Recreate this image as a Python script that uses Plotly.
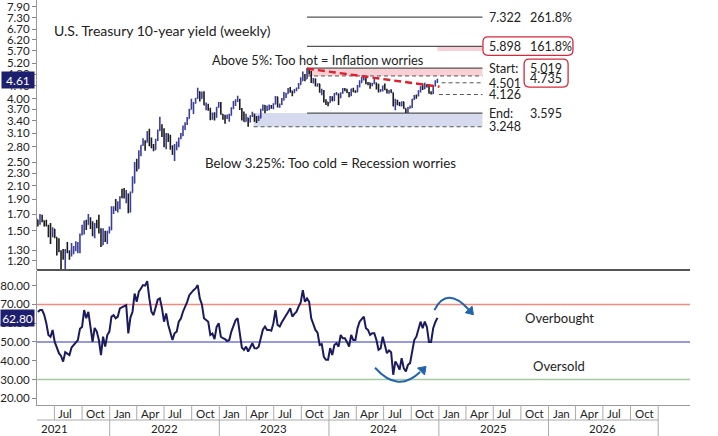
import numpy as np
import pandas as pd
import plotly.graph_objects as go

# ---------------- data ----------------
weeks = pd.date_range("2021-05-07", periods=191, freq="W-FRI")

close_2021 = [1.58, 1.63, 1.62, 1.58, 1.56, 1.45, 1.44, 1.52, 1.43, 1.36,
              1.29, 1.28, 1.22, 1.30, 1.28, 1.26, 1.31, 1.33, 1.34, 1.37,
              1.46, 1.47, 1.61, 1.57, 1.64, 1.56, 1.45, 1.58, 1.54, 1.48,
              1.35, 1.48, 1.40, 1.49, 1.51]
high_2021 = [1.63, 1.70, 1.69, 1.62, 1.63, 1.57, 1.59, 1.54, 1.52, 1.43,
             1.42, 1.30, 1.31, 1.31, 1.38, 1.30, 1.37, 1.34, 1.39, 1.38,
             1.47, 1.57, 1.62, 1.63, 1.70, 1.66, 1.61, 1.59, 1.63, 1.69,
             1.53, 1.53, 1.50, 1.50, 1.55]
low_2021 = [1.55, 1.57, 1.60, 1.55, 1.55, 1.43, 1.36, 1.43, 1.42, 1.25,
            1.28, 1.13, 1.21, 1.13, 1.27, 1.21, 1.24, 1.26, 1.29, 1.27,
            1.27, 1.45, 1.46, 1.51, 1.57, 1.52, 1.44, 1.42, 1.53, 1.47,
            1.33, 1.35, 1.38, 1.36, 1.47]

close_2022 = [1.77, 1.78, 1.75, 1.78, 1.93, 1.92, 1.92, 1.97, 1.73, 1.99,
              2.14, 2.48, 2.38, 2.71, 2.83, 2.90, 2.89, 3.13, 2.93, 2.78,
              2.74, 2.94, 3.16, 3.23, 3.13, 2.89, 3.08, 2.92, 2.76, 2.65,
              2.83, 2.84, 2.98, 3.04, 3.19, 3.31, 3.45, 3.69, 3.80, 3.88,
              4.01, 4.21, 4.01, 4.16, 3.82, 3.83, 3.68, 3.51, 3.58, 3.48,
              3.75, 3.87]
high_2022 = [1.80, 1.80, 1.90, 1.87, 1.94, 2.05, 2.06, 2.03, 1.98, 2.01,
             2.25, 2.50, 2.56, 2.73, 2.83, 2.98, 2.94, 3.14, 3.20, 3.00,
             2.86, 2.97, 3.18, 3.50, 3.31, 3.21, 3.10, 3.09, 3.06, 2.83,
             2.86, 2.91, 3.00, 3.10, 3.28, 3.36, 3.49, 3.71, 4.00, 3.90,
             4.02, 4.34, 4.22, 4.22, 4.23, 3.89, 3.85, 3.74, 3.61, 3.62,
             3.76, 3.90]
low_2022 = [1.51, 1.70, 1.74, 1.72, 1.76, 1.91, 1.91, 1.84, 1.71, 1.72,
            1.99, 2.13, 2.33, 2.38, 2.61, 2.82, 2.72, 2.89, 2.81, 2.77,
            2.71, 2.74, 2.92, 3.15, 3.01, 2.79, 2.75, 2.90, 2.74, 2.64,
            2.52, 2.73, 2.79, 2.96, 3.03, 3.17, 3.29, 3.45, 3.69, 3.57,
            3.85, 4.00, 3.92, 4.00, 3.81, 3.67, 3.66, 3.41, 3.42, 3.40,
            3.48, 3.75]

close_2023 = [3.56, 3.51, 3.48, 3.52, 3.53, 3.74, 3.82, 3.95, 3.96, 3.70,
              3.43, 3.38, 3.47, 3.39, 3.52, 3.57, 3.44, 3.44, 3.46, 3.68,
              3.80, 3.69, 3.74, 3.77, 3.74, 3.84, 4.06, 3.83, 3.84, 3.96,
              4.04, 4.15, 4.25, 4.24, 4.18, 4.26, 4.33, 4.44, 4.57, 4.78,
              4.63, 4.92, 4.84, 4.57, 4.63, 4.44, 4.47, 4.20, 4.23, 3.91,
              3.90, 3.88]
high_2023 = [3.90, 3.57, 3.55, 3.56, 3.58, 3.75, 3.93, 3.98, 4.09, 4.00,
             3.73, 3.64, 3.58, 3.47, 3.53, 3.63, 3.57, 3.52, 3.53, 3.71,
             3.83, 3.82, 3.80, 3.83, 3.82, 3.87, 4.08, 4.06, 3.86, 4.02,
             4.20, 4.18, 4.33, 4.36, 4.24, 4.30, 4.34, 4.49, 4.69, 4.89,
             4.80, 5.02, 4.99, 4.92, 4.66, 4.65, 4.48, 4.47, 4.31, 4.27,
             3.98, 3.90]
low_2023 = [3.56, 3.42, 3.32, 3.44, 3.37, 3.53, 3.70, 3.79, 3.90, 3.68,
            3.40, 3.37, 3.37, 3.25, 3.35, 3.49, 3.37, 3.34, 3.39, 3.46,
            3.66, 3.59, 3.65, 3.67, 3.71, 3.70, 3.84, 3.75, 3.74, 3.82,
            3.95, 4.02, 4.15, 4.18, 4.07, 4.17, 4.23, 4.30, 4.44, 4.57,
            4.55, 4.63, 4.79, 4.49, 4.48, 4.38, 4.37, 4.19, 4.10, 3.89,
            3.82, 3.78]

close_2024 = [4.05, 3.94, 4.14, 4.14, 4.03, 4.18, 4.28, 4.25, 4.19, 4.09,
              4.30, 4.21, 4.20, 4.40, 4.50, 4.62, 4.67, 4.50, 4.50, 4.42,
              4.47, 4.50, 4.43, 4.22, 4.26, 4.40, 4.28, 4.18, 4.24, 4.19,
              3.79, 3.94, 3.89, 3.80, 3.91, 3.72, 3.65, 3.73, 3.75, 3.98,
              4.09, 4.08, 4.24, 4.37, 4.31, 4.43, 4.41, 4.17, 4.15, 4.40,
              4.52, 4.61]
high_2024 = [4.08, 4.07, 4.17, 4.20, 4.16, 4.19, 4.33, 4.33, 4.31, 4.20,
             4.31, 4.34, 4.26, 4.43, 4.59, 4.70, 4.74, 4.69, 4.51, 4.50,
             4.50, 4.63, 4.50, 4.47, 4.30, 4.40, 4.48, 4.31, 4.27, 4.29,
             4.19, 4.00, 3.97, 3.90, 3.92, 3.91, 3.72, 3.76, 3.80, 3.99,
             4.11, 4.13, 4.26, 4.39, 4.48, 4.50, 4.45, 4.42, 4.23, 4.41,
             4.59, 4.64]
low_2024 = [3.88, 3.93, 3.93, 4.10, 3.82, 4.02, 4.15, 4.23, 4.17, 4.04,
            4.08, 4.20, 4.18, 4.20, 4.35, 4.50, 4.58, 4.45, 4.42, 4.31,
            4.39, 4.45, 4.28, 4.19, 4.21, 4.22, 4.27, 4.16, 4.15, 4.18,
            3.78, 3.67, 3.81, 3.79, 3.78, 3.71, 3.60, 3.595, 3.72, 3.73,
            3.96, 4.00, 4.07, 4.19, 4.27, 4.30, 4.35, 4.16, 4.13, 4.14,
            4.38, 4.49]

close = close_2021 + close_2022 + close_2023 + close_2024
high = high_2021 + high_2022 + high_2023 + high_2024
low = low_2021 + low_2022 + low_2023 + low_2024
first_open = 1.63
open_ = [first_open] + close[:-1]   # weekly open = prior week's close

rsi = [66, 67, 67, 64.5, 60, 53.7, 52.8, 56.4, 50, 46.5,
       44, 42.5, 39.5, 44.5, 43.5, 43, 47, 48.5, 50, 51,
       57, 58, 67, 62.6, 66, 59, 50, 57.5, 55.5, 51,
       43, 52.8, 47.5, 53.7, 55.5, 63.5, 64.3, 62.6, 63.5, 67.9,
       68.5, 68.8, 69.6, 54.6, 63, 66.1, 75.8, 71.4, 76.7, 78.5,
       80.3, 80, 82.4, 73.2, 66.1, 64.3, 69, 72.5, 73.2, 68,
       60.8, 65.2, 59, 55.5, 51, 54.6, 55.5, 60.8, 62.5, 66.1,
       68.5, 71.4, 74.9, 76.5, 77.6, 78.5, 80.3, 73.2, 70, 62.6,
       61.5, 60.8, 53.7, 54.5, 51.5, 58, 60, 52.8, 52, 51.5,
       50.5, 51, 55.5, 58.2, 61.5, 62.6, 55, 47, 45.8, 47.5,
       44.9, 47.5, 49.3, 46.7, 46.5, 47.5, 52.8, 56.5, 58.2, 56.4,
       56.4, 56, 60, 67, 59, 58.2, 60.5, 62.6, 64.5, 66,
       67.9, 63.5, 65, 66.1, 68.8, 71, 77.6, 71.4, 73.2, 71.4,
       62.6, 60, 56.4, 55, 48.4, 48.8, 42, 40.5, 40.5, 46.7,
       43, 48.4, 49.3, 47.5, 53.7, 52, 52, 50, 47.5, 53.7,
       51, 51, 57.3, 60.8, 62.5, 63.5, 57.3, 56.4, 53.7, 54.6,
       54.6, 51, 45.8, 46.5, 52.8, 49, 44, 45.5, 44.5, 32.5,
       39.6, 37.8, 35.2, 41.4, 36, 34.3, 37.8, 38.7, 45, 51,
       52.8, 57.3, 60.8, 57.3, 60.8, 58, 50, 50, 57.3, 60.5, 62.8]

yield_ticks = [7.90, 7.30, 6.70, 6.20, 5.70, 5.20, 4.80, 4.40, 4.00, 3.70, 3.40,
               3.10, 2.80, 2.50, 2.30, 2.10, 1.90, 1.70, 1.50, 1.30, 1.20]
rsi_ticks = [80, 70, 60, 50, 40, 30, 20]
rsi_levels = [70, 50, 30]
rsi_level_colors = ["#f28b7d", "#7279c9", "#a5c9a1"]

fib_solid = [7.322, 5.898, 5.019, 3.595]
fib_label_left = ["7.322", "5.898", "Start:", "End:"]
fib_label_right = ["261.8%", "161.8%", "5.019", "3.595"]
dashed_levels = [4.735, 4.501, 4.126, 3.248]
dashed_starts = ["2023-10-20", "2025-01-10", "2025-01-01", "2023-04-25"]
dashed_label = ["4.735", "4.501", "4.126", "3.248"]

last_yield = 4.61
last_rsi = 62.80
trend_pts = [("2023-10-20", 5.00), ("2025-01-03", 4.37)]

x_range = ["2021-05-04", "2027-04-17"]
fib_x0, fib_x1 = "2023-10-20", "2025-05-26"
lab_x1, lab_x2 = "2025-06-10", "2025-10-25"

quarters = pd.date_range("2021-07-01", "2027-01-01", freq="QS")
years = [2021, 2022, 2023, 2024, 2025, 2026]

# ---------------- figure ----------------
TXT = "#222222"
FONT = "Lato"
H = 405.0  # plot-area height in px (for paper fractions of the date table)

fig = go.Figure()

fig.add_trace(go.Ohlc(
    x=weeks, open=open_, high=high, low=low, close=close,
    increasing=dict(line=dict(color="#3b3f9c", width=1.6)),
    decreasing=dict(line=dict(color="#1c1c1c", width=1.6)),
    tickwidth=0.35, xaxis="x", yaxis="y", hoverinfo="skip"))

fig.add_trace(go.Scatter(
    x=weeks, y=rsi, mode="lines", line=dict(color="#1a1a5e", width=2),
    xaxis="x", yaxis="y2", hoverinfo="skip"))

shapes = []
# bands
shapes.append(dict(type="rect", xref="x", yref="y", x0=fib_x0, x1=fib_x1,
                   y0=4.735, y1=5.019, fillcolor="#f9d0d6", line=dict(width=0), layer="below"))
shapes.append(dict(type="rect", xref="x", yref="y", x0="2024-12-27", x1=fib_x1,
                   y0=5.70, y1=5.898, fillcolor="#f9d0d6", line=dict(width=0), layer="below"))
shapes.append(dict(type="rect", xref="x", yref="y", x0="2023-04-25", x1=fib_x1,
                   y0=3.248, y1=3.595, fillcolor="#d5daee", line=dict(width=0), layer="below"))
# fib solid lines
for v in fib_solid:
    shapes.append(dict(type="line", xref="x", yref="y", x0=fib_x0, x1=fib_x1,
                       y0=v, y1=v, line=dict(color="#555555", width=1.3), layer="below"))
for v, s in zip(dashed_levels, dashed_starts):
    shapes.append(dict(type="line", xref="x", yref="y", x0=s, x1=fib_x1,
                       y0=v, y1=v, line=dict(color="#555555", width=1, dash="4px,3px"), layer="below"))
# red trend line
shapes.append(dict(type="line", xref="x", yref="y", x0=trend_pts[0][0], y0=trend_pts[0][1],
                   x1=trend_pts[1][0], y1=trend_pts[1][1],
                   line=dict(color="#e0202a", width=2.4, dash="7px,4px"), layer="above"))
# rounded red boxes (pixel sized, anchored on data)
def rounded(x0, y0, x1, y1, r=5):
    return (f"M {x0+r} {y1} L {x1-r} {y1} Q {x1} {y1} {x1} {y1-r} "
            f"L {x1} {y0+r} Q {x1} {y0} {x1-r} {y0} L {x0+r} {y0} "
            f"Q {x0} {y0} {x0} {y0+r} L {x0} {y1-r} Q {x0} {y1} {x0+r} {y1} Z")
shapes.append(dict(type="path", xref="x", yref="y", xsizemode="pixel", ysizemode="pixel",
                   xanchor=lab_x1, yanchor=5.898, path=rounded(-4, -9, 86, 9.5),
                   line=dict(color="#d42a3c", width=1.3)))
shapes.append(dict(type="path", xref="x", yref="y", xsizemode="pixel", ysizemode="pixel",
                   xanchor=lab_x2, yanchor=5.019, path=rounded(-4, -19, 40, 9),
                   line=dict(color="#d42a3c", width=1.3)))
# RSI reference lines
for v, c in zip(rsi_levels, rsi_level_colors):
    shapes.append(dict(type="line", xref="paper", yref="y2", x0=0, x1=1, y0=v, y1=v,
                       line=dict(color=c, width=1.5), layer="below"))
# panel separator
shapes.append(dict(type="line", xref="paper", yref="paper", x0=0, x1=1,
                   y0=135 / H, y1=135 / H, line=dict(color="#555555", width=2)))
# curved arrows in RSI panel
ARROW = "#2263ab"
shapes.append(dict(type="path", xref="x", yref="y2", xsizemode="pixel", ysizemode="pixel",
                   xanchor="2024-08-18", yanchor=30, path="M -23 11.7 Q 0 -14 22 7.5",
                   line=dict(color=ARROW, width=2)))
shapes.append(dict(type="path", xref="x", yref="y2", xsizemode="pixel", ysizemode="pixel",
                   xanchor="2024-08-18", yanchor=30, path="M 28 13 L 19.5 11.5 L 26.5 4.5 Z",
                   fillcolor=ARROW, line=dict(color=ARROW, width=1)))
shapes.append(dict(type="path", xref="x", yref="y2", xsizemode="pixel", ysizemode="pixel",
                   xanchor="2025-02-06", yanchor=70, path="M -15.3 -5.7 Q -2.85 18.55 19 -5.2",
                   line=dict(color=ARROW, width=2)))
shapes.append(dict(type="path", xref="x", yref="y2", xsizemode="pixel", ysizemode="pixel",
                   xanchor="2025-02-06", yanchor=70, path="M 23.7 -10.3 L 22.4 -1.9 L 15.6 -8.3 Z",
                   fillcolor=ARROW, line=dict(color=ARROW, width=1)))
# date table
for q in quarters:
    shapes.append(dict(type="line", xref="x", yref="paper", x0=q, x1=q, y0=0, y1=-15 / H,
                       line=dict(color="#aaaaaa", width=1)))
for yv in years:
    d = f"{yv + 1}-01-01"
    shapes.append(dict(type="line", xref="x", yref="paper", x0=d, x1=d, y0=-15 / H, y1=-31 / H,
                       line=dict(color="#aaaaaa", width=1)))
shapes.append(dict(type="line", xref="x", yref="paper", x0=x_range[0], x1="2027-01-01",
                   y0=-15 / H, y1=-15 / H, line=dict(color="#aaaaaa", width=1)))

ann = []
def txt(x, y, s, xref="x", yref="y", xanchor="left", size=12, color=TXT, **kw):
    ann.append(dict(x=x, y=y, xref=xref, yref=yref, text=s, showarrow=False,
                    xanchor=xanchor, yanchor="middle", font=dict(size=size, color=color, family=FONT), **kw))

txt(15 / 655, (H - 31) / H, "U.S. Treasury 10-year yield (weekly)", xref="paper", yref="paper", size=14)
txt("2022-12-01", np.log10(5.33), "Above 5%: Too hot = Inflation worries", size=12.8)
txt("2022-11-06", np.log10(2.48), "Below 3.25%: Too cold = Recession worries", size=13.3)
for v, a, b in zip(fib_solid, fib_label_left, fib_label_right):
    txt(lab_x1, np.log10(v), a, size=12.5)
    txt(lab_x2, np.log10(v), b, size=12.5)
for v, s in zip(dashed_levels, dashed_label):
    if s == "4.735":
        txt(lab_x2, np.log10(v) - 0.009, s, size=12.5)
    elif s == "4.501":
        txt(lab_x1, np.log10(v) - 0.002, s, size=12.5)
    else:
        txt(lab_x1, np.log10(v), s, size=12.5)
txt("2026-02-05", 62.5, "Overbought", yref="y2", xanchor="center", size=13)
txt("2026-02-05", 37.0, "Oversold", yref="y2", xanchor="center", size=13)
# current value tags
ann.append(dict(x=0, xref="paper", y=np.log10(last_yield), yref="y", text=f"{last_yield:.2f}",
                showarrow=False, xanchor="right", yanchor="middle", xshift=-2, width=30, height=14,
                bgcolor="#1e1e6e", font=dict(size=12, color="white", family=FONT)))
ann.append(dict(x=0, xref="paper", y=last_rsi, yref="y2", text=f"{last_rsi:.2f}",
                showarrow=False, xanchor="right", yanchor="middle", xshift=-2, width=31, height=14,
                bgcolor="#1e1e6e", font=dict(size=12, color="white", family=FONT)))
# month & year labels
for q in quarters[:-1]:
    txt(q, -8 / H, q.strftime("%b"), yref="paper", size=11.5, xshift=2)
for yv in years:
    txt(f"{yv}-07-01", -23.5 / H, str(yv), yref="paper", xanchor="center", size=11.5)

fig.update_layout(
    width=718, height=436, margin=dict(l=35, r=28, t=0, b=31),
    paper_bgcolor="white", plot_bgcolor="white", showlegend=False,
    font=dict(family=FONT, size=11, color=TXT),
    xaxis=dict(type="date", range=x_range, anchor="y2", showticklabels=False, ticks="",
               showgrid=False, zeroline=False, showline=True, linecolor="#999999",
               rangeslider=dict(visible=False)),
    yaxis=dict(domain=[135 / H, 1], type="log", range=[np.log10(1.122), np.log10(8.32)],
               tickvals=yield_ticks, ticktext=[f"{v:.2f}" for v in yield_ticks],
               ticks="outside", ticklen=4, tickcolor="#888888", showgrid=False, zeroline=False,
               showline=True, linecolor="#999999", tickfont=dict(size=11.5, color=TXT),
               ticklabeloverflow="allow"),
    yaxis2=dict(domain=[0, 134 / H], range=[16.4, 87.8],
                tickvals=rsi_ticks, ticktext=[f"{v:.2f}" for v in rsi_ticks],
                ticks="outside", ticklen=4, tickcolor="#888888", showgrid=False, zeroline=False,
                showline=True, linecolor="#999999", tickfont=dict(size=11.5, color=TXT),
                ticklabeloverflow="allow"),
    shapes=shapes, annotations=ann,
)

fig.write_html("out.html")
